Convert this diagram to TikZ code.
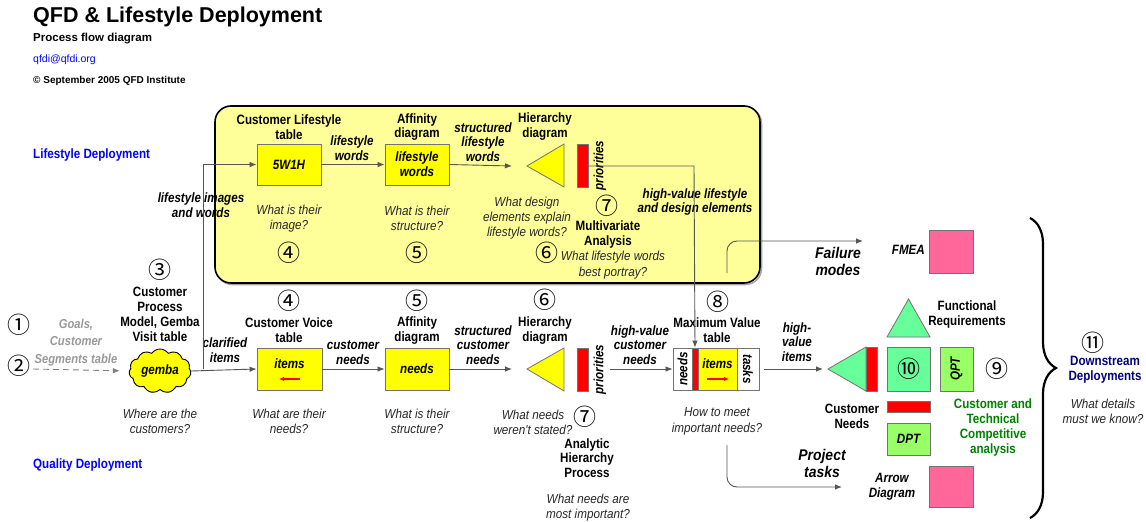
\documentclass[tikz,border=0pt]{standalone}
\usepackage{fontspec}
\setmainfont{Liberation Sans}
\newfontfamily\condfont[FakeStretch=0.86]{Liberation Sans}
\newfontfamily\qfont[FakeStretch=0.9]{Liberation Sans}
\newfontfamily\circfont{Noto Sans CJK JP}
\usetikzlibrary{arrows.meta,shapes.symbols,shapes.geometric,decorations.pathreplacing}
\definecolor{lyellow}{HTML}{FFFF99}
\definecolor{qyellow}{HTML}{FFFF00}
\definecolor{qred}{HTML}{FF0000}
\definecolor{qpink}{HTML}{FF6699}
\definecolor{qmint}{HTML}{66FF99}
\definecolor{qlgreen}{HTML}{99FF66}
\definecolor{qblue}{HTML}{0000FF}
\definecolor{qnavy}{HTML}{000080}
\definecolor{qgreen}{HTML}{008000}
\definecolor{qgray}{HTML}{999999}
\definecolor{qline}{HTML}{555555}
\begin{document}
\begin{tikzpicture}[x=1pt,y=-1pt,
  lbl/.style={font=\condfont\bfseries\fontsize{13.5}{14.8}\selectfont, align=center, inner sep=0pt},
  ilbl/.style={font=\condfont\bfseries\itshape\fontsize{13.5}{14.8}\selectfont, align=center, inner sep=0pt},
  bigilbl/.style={font=\qfont\bfseries\itshape\fontsize{15.5}{17}\selectfont, align=center, inner sep=0pt},
  qst/.style={font=\qfont\itshape\fontsize{13}{15.3}\selectfont, align=center, inner sep=0pt, text=black!85},
  num/.style={font=\circfont\fontsize{23}{23}\selectfont, inner sep=0pt},
  ybox/.style={draw=black!55, fill=qyellow, line width=0.8pt, inner sep=0pt},
  rbar/.style={draw=black!55, fill=qred, line width=0.8pt, inner sep=0pt},
  pbox/.style={draw=black!55, fill=qpink, line width=0.8pt, inner sep=0pt},
  mbox/.style={draw=black!55, fill=qmint, line width=0.8pt, inner sep=0pt},
  gbox/.style={draw=black!55, fill=qlgreen, line width=0.8pt, inner sep=0pt},
  wbox/.style={draw=black!55, fill=white, line width=0.8pt, inner sep=0pt},
  conn/.style={draw=qline, line width=0.9pt},
  arr/.style={conn, -{Latex[length=7pt,width=5.5pt]}},
]
\useasboundingbox (0,0) rectangle (1146,522);
\fill[white] (0,0) rectangle (1146,522);

% ---------- title block ----------
\node[anchor=base west, inner sep=0pt, font=\bfseries\fontsize{21.5}{24}\selectfont] (title) at (33,23) {QFD \& Lifestyle Deployment};
\node[anchor=base west, inner sep=0pt, font=\bfseries\fontsize{11.5}{14}\selectfont] (sub) at (33,41) {Process flow diagram};
\node[anchor=base west, inner sep=0pt, font=\fontsize{10.5}{13}\selectfont, text=qblue] (mail) at (33,62) {qfdi@qfdi.org};
\node[anchor=base west, inner sep=0pt, font=\bfseries\fontsize{10}{12}\selectfont] (copy) at (33,83) {© September 2005 QFD Institute};

\node[anchor=west, lbl, text=qblue] (ld) at (33,155) {Lifestyle Deployment};
\node[anchor=west, lbl, text=qblue] (qd) at (33,465) {Quality Deployment};

% ---------- lifestyle panel ----------
\draw[black!35, line width=1.5pt, rounded corners=16pt] (216.5,107.5) rectangle (761.5,284.5);
\node[draw=black, line width=1.6pt, fill=lyellow, rounded corners=16pt, minimum width=545pt, minimum height=177pt, inner sep=0pt] (panel) at (487.5,194.5) {};

\node[lbl] (cltitle) at (289,127) {Customer Lifestyle\\table};
\node[ybox, minimum width=64pt, minimum height=41pt, ilbl] (w5) at (289,164.5) {5W1H};
\node[qst] (q1) at (289,218.5) {What is their\\image?};
\node[num] (n4a) at (289,253) {④};

\node[ilbl] (lwl) at (352,148) {lifestyle\\words};
\node[lbl] (aff1) at (417,127) {Affinity\\diagram};
\node[ybox, minimum width=64pt, minimum height=41pt, ilbl] (lwbox) at (417,164.5) {lifestyle\\words};
\node[qst] (q2) at (417,218.5) {What is their\\structure?};
\node[num] (n5a) at (417,253) {⑤};

\node[ilbl] (slw) at (483,142) {structured\\lifestyle\\words};
\node[lbl] (hd1) at (545,126.5) {Hierarchy\\diagram};
\draw[draw=black!55, fill=qyellow, line width=0.8pt] (527,166) -- (564,144) -- (564,187) -- cycle;
\coordinate (tri1) at (512,166);
\node[rbar, minimum width=11pt, minimum height=43pt] (bar1) at (582.5,165.5) {};
\node[ilbl, rotate=90] (pri1) at (600,165.5) {priorities};
\node[qst] (q3) at (527,218) {What design\\elements explain\\lifestyle words?};
\node[num] (n7a) at (607,206) {⑦};
\node[lbl] (mva) at (608,234.5) {Multivariate\\Analysis};
\node[num] (n6a) at (547,253) {⑥};
\node[qst] (q4) at (613,265) {What lifestyle words\\best portray?};
\node[ilbl] (hvl) at (695,202) {high-value lifestyle\\and design elements};

\draw[arr] (w5.east) -- (lwbox.west);
\draw[arr] (lwbox.east) -- (tri1);

% ---------- failure modes / FMEA ----------
\coordinate (fs) at (727,273);
\coordinate (fe) at (863,241);
\draw[arr, rounded corners=10pt] (fs) |- (fe);
\node[bigilbl] (fm) at (838,261.5) {Failure\\modes};
\node[ilbl, anchor=east] (fmeal) at (925,250) {FMEA};
\node[pbox, minimum width=44pt, minimum height=43pt] (fmea) at (951,251.5) {};

% ---------- left inputs ----------
\node[num] (n1) at (19,325) {①};
\node[num] (n2) at (19,366) {②};
\node[font=\condfont\bfseries\itshape\fontsize{13}{17.5}\selectfont, align=center, inner sep=0pt, text=qgray] (goals) at (76,342.5) {Goals,\\Customer\\Segments table};
\coordinate (ds) at (33,369);

\node[num] (n3) at (160,270) {③};
\node[lbl] (cpm) at (160,314.5) {Customer\\Process\\Model, Gemba\\Visit table};
\node[cloud, cloud puffs=11, cloud puff arc=110, aspect=1.4, draw=black, line width=0.9pt, fill=qyellow, minimum width=62pt, minimum height=42pt, inner sep=0pt, ilbl] (gemba) at (160,371) {gemba};
\node[qst] (q5) at (160,421.5) {Where are the\\customers?};

\draw[conn, gray, dashed, dash pattern=on 6pt off 4pt, -{Latex[length=7pt,width=5.5pt]}, shorten >=9pt] (ds) -- (gemba.west);

% ---------- quality deployment row ----------
\node[ilbl] (lwi) at (201,205) {lifestyle images\\and words};
\node[ilbl] (clar) at (225,350) {clarified\\items};

\node[num] (n4b) at (289,301) {④};
\node[lbl] (cvt) at (289,330.5) {Customer Voice\\table};
\node[ybox, minimum width=65pt, minimum height=42pt] (items) at (289.5,369) {};
\node[ilbl] (itemst) at (289.5,364) {items};
\coordinate (ra1) at (300,379);
\coordinate (ra2) at (279,379);
\draw[qred, line width=1.2pt, -{Latex[length=5pt,width=4.5pt]}] (ra1) -- (ra2);
\node[qst] (q6) at (289,421.5) {What are their\\needs?};

\coordinate (J) at (203,369);
\draw[arr] (gemba.east) -- (items.west);
\draw[arr] (J) |- (w5.west);

\node[ilbl] (cn) at (353,352.5) {customer\\needs};
\node[num] (n5b) at (417,301) {⑤};
\node[lbl] (aff2) at (417,330.5) {Affinity\\diagram};
\node[ybox, minimum width=64pt, minimum height=42pt, ilbl] (needs) at (417,369) {needs};
\node[qst] (q7) at (417,421.5) {What is their\\structure?};
\draw[arr] (items.east) -- (needs.west);

\node[ilbl] (scn) at (483,345) {structured\\customer\\needs};
\node[num] (n6b) at (545,300) {⑥};
\node[lbl] (hd2) at (545,330.5) {Hierarchy\\diagram};
\draw[draw=black!55, fill=qyellow, line width=0.8pt] (527,369) -- (564,348) -- (564,391) -- cycle;
\coordinate (tri2) at (512,369);
\draw[arr] (needs.east) -- (tri2);
\node[rbar, minimum width=11pt, minimum height=43pt] (bar2) at (582.5,369.5) {};
\node[ilbl, rotate=90] (pri2) at (600,369.5) {priorities};
\node[qst] (q8) at (533,422.5) {What needs\\weren't stated?};
\node[num] (n7b) at (585,417) {⑦};
\node[lbl] (ahp) at (587,458) {Analytic\\Hierarchy\\Process};
\node[qst] (q9) at (588,507.5) {What needs are\\most important?};

\node[ilbl] (hvcn) at (640,345) {high-value\\customer\\needs};
\coordinate (a2s) at (610,369);

% Maximum value table
\node[num] (n8) at (718,302) {⑧};
\node[lbl] (mvt) at (717,330.5) {Maximum Value\\table};
\node[wbox, minimum width=19pt, minimum height=42pt] (tneeds) at (682.5,369) {};
\node[ilbl, rotate=90] at (tneeds.center) {needs};
\node[rbar, minimum width=6pt, minimum height=42pt] (tred) at (695,369) {};
\node[ybox, minimum width=39pt, minimum height=42pt] (titems) at (717.5,369) {};
\node[ilbl] (titemst) at (717.5,364) {items};
\coordinate (rb1) at (707,379);
\coordinate (rb2) at (729,379);
\draw[qred, line width=1.2pt, -{Latex[length=5pt,width=4.5pt]}] (rb1) -- (rb2);
\node[wbox, minimum width=22pt, minimum height=42pt] (ttasks) at (748,369) {};
\node[ilbl, rotate=-90] at (ttasks.center) {tasks};
\node[qst] (q10) at (717,421.5) {How to meet\\important needs?};
\draw[arr] (a2s) -- (tneeds.west);

% lifestyle priorities to max value table
\coordinate (p1s) at (588,166);
\coordinate (p1c) at (694,166);
\draw[arr] (p1s) -- (p1c) -- (tred.north);

% project tasks
\coordinate (ps) at (727,445);
\coordinate (pe) at (842,487);
\draw[arr, rounded corners=10pt] (ps) |- (pe);
\node[bigilbl] (pt) at (822,463.5) {Project\\tasks};

% ---------- right group ----------
\node[ilbl] (hvi) at (797,342) {high-\\value\\items};
\draw[draw=black!55, fill=qmint, line width=0.8pt] (828,369) -- (866,347) -- (866,391) -- cycle;
\coordinate (tri3) at (823,369);
\draw[arr, shorten <=5pt] (ttasks.east) -- (tri3);
\node[rbar, minimum width=11pt, minimum height=44pt] (bar3) at (871.5,369) {};
\node[mbox, minimum width=43pt, minimum height=44pt] (sq10) at (908.5,369) {};
\node[num] (n10) at (908.5,369) {⑩};
\node[gbox, minimum width=33pt, minimum height=44pt] (qpt) at (956.5,369) {};
\node[ilbl, rotate=90] at (qpt.center) {QPT};
\node[num] (n9) at (997,369) {⑨};
\draw[draw=black!55, fill=qmint, line width=0.8pt] (908.5,299) -- (887,337) -- (930,337) -- cycle;
\node[lbl] (fr) at (967,314.5) {Functional\\Requirements};
\node[rbar, minimum width=43pt, minimum height=11pt] (bar4) at (908.5,406.5) {};
\node[lbl] (cnd) at (852,416.5) {Customer\\Needs};
\node[gbox, minimum width=43pt, minimum height=32pt, ilbl] (dpt) at (908.5,439) {DPT};
\node[lbl, text=qgreen] (ctca) at (993,427.5) {Customer and\\Technical\\Competitive\\analysis};
\node[pbox, minimum width=44pt, minimum height=41pt] (adbox) at (951,486.5) {};
\node[ilbl] (adl) at (892,486.5) {Arrow\\Diagram};

% brace and downstream
\coordinate (bt) at (1030,218);
\coordinate (bb) at (1030,518);
\draw[black, line width=2.2pt, decorate, decoration={brace, amplitude=26pt}] (bt) -- (bb);
\node[num] (n11) at (1093,343) {⑪};
\node[lbl, text=qnavy] (dsd) at (1105,369.5) {Downstream\\Deployments};
\node[qst] (q11) at (1103,411.5) {What details\\must we know?};
\end{tikzpicture}
\end{document}
